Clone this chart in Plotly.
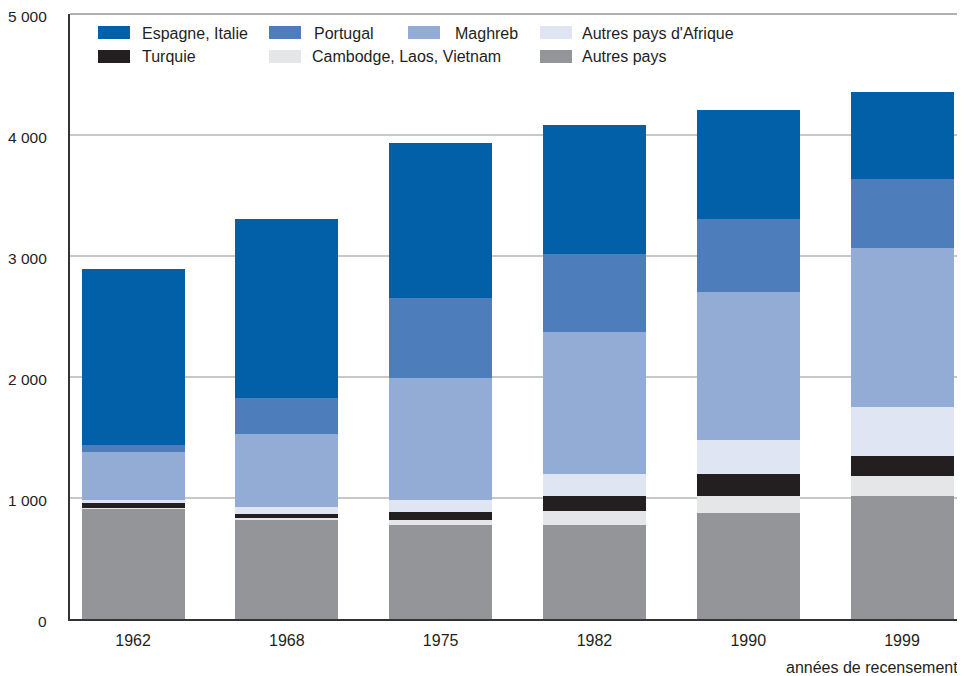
import plotly.graph_objects as go

years = ["1962", "1968", "1975", "1982", "1990", "1999"]

# thousands of people, stacked bottom -> top
autres_pays = [911, 820, 779, 779, 878, 1019]
cambodge_laos_vietnam = [3, 17, 41, 116, 141, 166]
turquie = [47, 33, 66, 124, 182, 165]
autres_afrique = [25, 58, 100, 182, 282, 406]
maghreb = [398, 605, 1002, 1169, 1218, 1309]
portugal = [58, 290, 663, 646, 605, 572]
espagne_italie = [1449, 1483, 1284, 1069, 903, 721]

y_ticks = [0, 1000, 2000, 3000, 4000, 5000]
y_tick_text = ["0", "1 000", "2 000", "3 000", "4 000", "5 000"]

series = [
    ("Autres pays", autres_pays, "#939598"),
    ("Cambodge, Laos, Vietnam", cambodge_laos_vietnam, "#E5E6E7"),
    ("Turquie", turquie, "#231F20"),
    ("Autres pays d'Afrique", autres_afrique, "#DFE5F3"),
    ("Maghreb", maghreb, "#93ACD5"),
    ("Portugal", portugal, "#4D7EBB"),
    ("Espagne, Italie", espagne_italie, "#0260A9"),
]

FONT = "Liberation Sans, Arial, sans-serif"
TXT = "#231F20"

fig = go.Figure()
for name, vals, color in series:
    fig.add_trace(go.Bar(
        x=list(range(len(years))), y=vals, name=name,
        marker=dict(color=color, line=dict(width=0)),
        width=0.67, showlegend=False,
    ))

# page puts the plot 8px in from the top-left corner
OFF = 8
W, H = 965 - OFF, 676 - OFF
left, right, top, bottom = 70, 962, 14, 619  # plot area in window pixels
ml, mr, mt, mb = left - OFF, W + OFF - right, top - OFF, H + OFF - bottom
pw, ph = right - left, bottom - top

def px(x):
    return (x - left) / pw

def py(y):
    return (bottom - y) / ph

# hand-placed legend: (swatch x px, row)
legend_slots = {
    "Espagne, Italie": (98, 0), "Portugal": (269, 0),
    "Maghreb": (408, 0), "Autres pays d'Afrique": (540, 0),
    "Turquie": (98, 1), "Cambodge, Laos, Vietnam": (269, 1),
    "Autres pays": (540, 1),
}
text_x = {"Espagne, Italie": 140, "Portugal": 312, "Maghreb": 453,
          "Autres pays d'Afrique": 580, "Turquie": 140,
          "Cambodge, Laos, Vietnam": 310, "Autres pays": 580}

shapes = []
annotations = []
for name, vals, color in series:
    x0, row = legend_slots[name]
    ytop = 26 + row * 24
    shapes.append(dict(type="rect", xref="paper", yref="paper",
                       x0=px(x0), x1=px(x0 + 32), y0=py(ytop + 13), y1=py(ytop),
                       fillcolor=color, line=dict(width=0), layer="above"))
    annotations.append(dict(xref="paper", yref="paper", x=px(text_x[name]),
                            y=py(ytop + 7), text=name, showarrow=False,
                            xanchor="left", yanchor="middle",
                            font=dict(family=FONT, size=16, color=TXT)))

# y tick labels sit a touch below their gridlines
for val, lab in zip(y_ticks, y_tick_text):
    annotations.append(dict(xref="paper", yref="y", x=px(49), y=val, yshift=-2,
                            text=lab, showarrow=False, xanchor="right", yanchor="middle",
                            font=dict(family=FONT, size=15.5, color=TXT)))

# top and right frame in grey
shapes.append(dict(type="line", xref="paper", yref="paper", x0=0, x1=1, y0=1, y1=1,
                   line=dict(color="#B0B0B0", width=2)))
shapes.append(dict(type="line", xref="paper", yref="paper", x0=1, x1=1, y0=0, y1=1,
                   line=dict(color="#B0B0B0", width=2)))

annotations.append(dict(xref="paper", yref="paper", x=px(960), y=py(667),
                        text="années de recensement",
                        showarrow=False, xanchor="right", yanchor="middle",
                        font=dict(family=FONT, size=16, color=TXT)))

fig.update_layout(
    width=W, height=H,
    margin=dict(l=ml, r=mr, t=mt, b=mb, pad=0),
    barmode="stack", bargap=0,
    plot_bgcolor="white", paper_bgcolor="white",
    font=dict(family=FONT, size=16, color=TXT),
    shapes=shapes, annotations=annotations,
)
fig.update_xaxes(
    range=[-0.41, 5.39], tickvals=list(range(len(years))), ticktext=years,
    showline=True, linecolor="#333333", linewidth=2,
    showgrid=False, ticks="", ticklabelstandoff=6, automargin=False,
)
fig.update_yaxes(
    range=[0, 5000], tickvals=y_ticks, showticklabels=False,
    showline=True, linecolor="#333333", linewidth=2,
    showgrid=True, gridcolor="#C8C8C8", gridwidth=2, zeroline=False,
    ticks="", automargin=False,
)

fig.write_html("out.html")
